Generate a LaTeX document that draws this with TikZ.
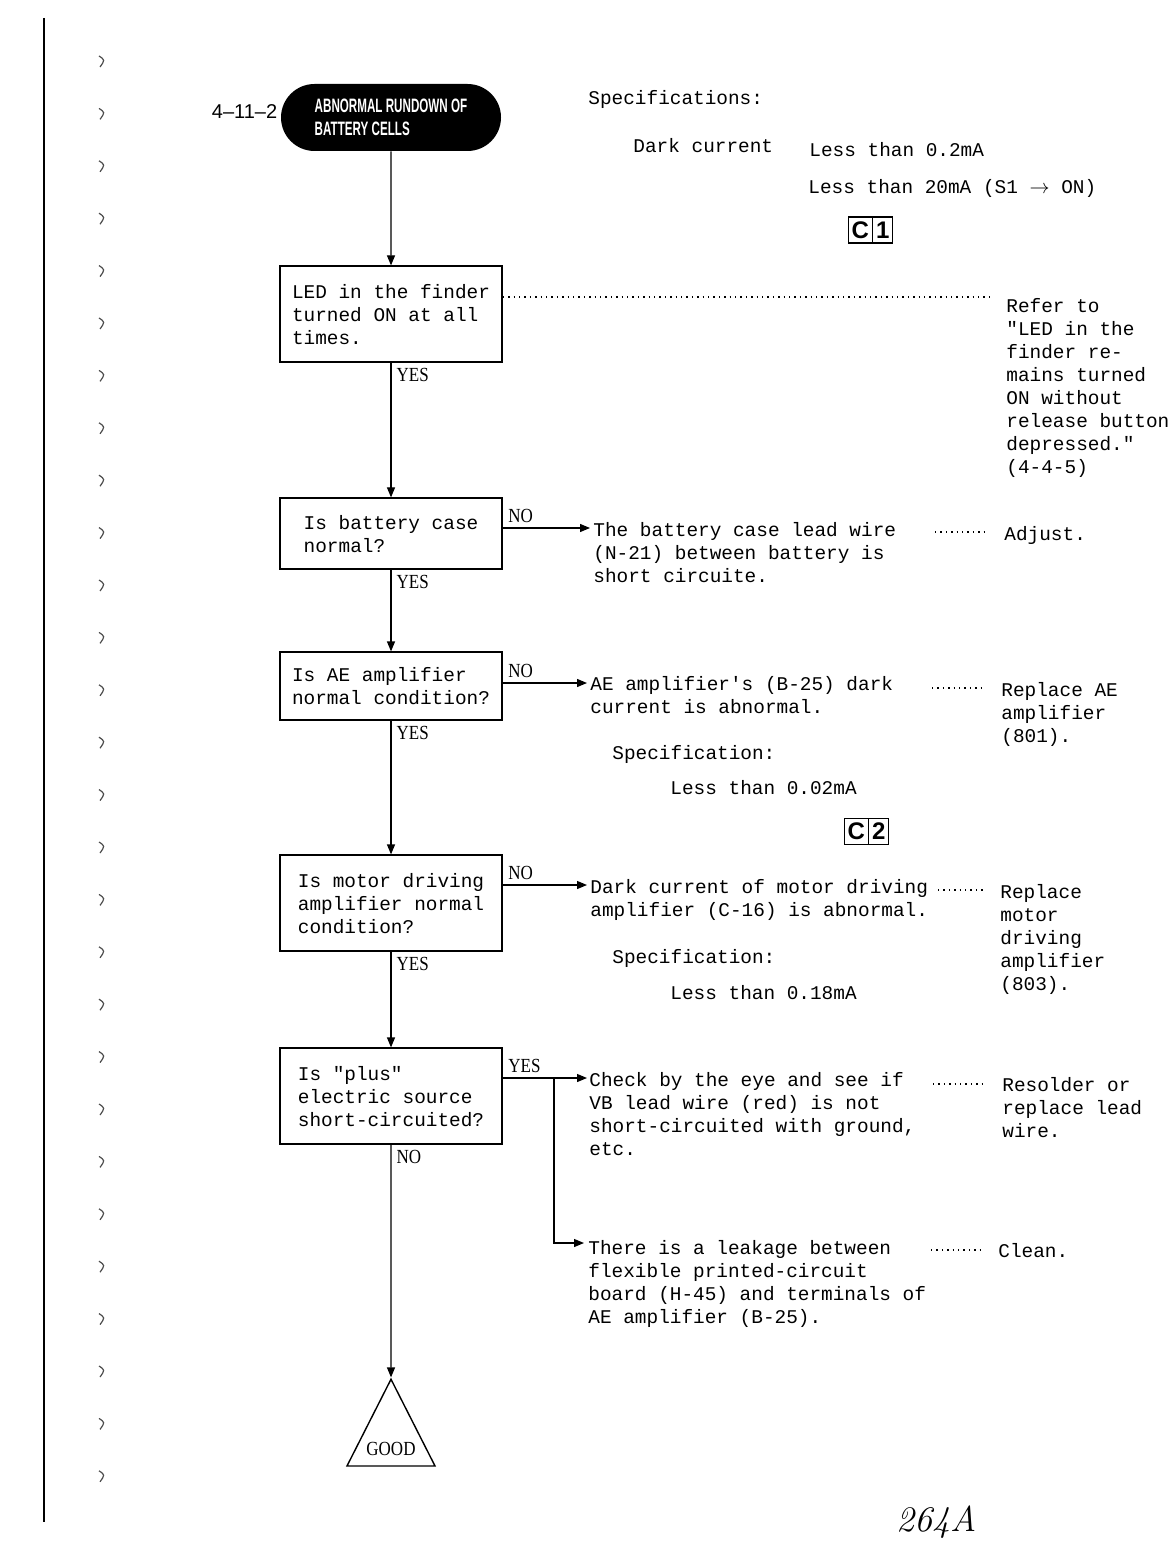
\documentclass[tikz,border=0pt]{standalone}
\usepackage{fontspec}
\setmonofont{Liberation Mono}
\newfontfamily\headfont[FakeStretch=0.6]{Liberation Sans}
\newfontfamily\lblfont[FakeStretch=0.85]{Liberation Serif}
\newfontfamily\numfont{Liberation Sans}
\usepackage{tikz}
\usetikzlibrary{arrows.meta, positioning, shapes.geometric, shapes.misc, shapes.multipart}

\newcommand{\typew}{\ttfamily\fontsize{9.7}{11.5}\selectfont}

\begin{document}
\begin{tikzpicture}[
    x=0.5pt, y=-0.5pt,
    heading/.style={rounded rectangle, fill=black, text=white, align=left, minimum width=110pt, minimum height=33.5pt, inner sep=0pt, font=\headfont\bfseries\fontsize{9.7}{11.5}\selectfont},
    box/.style={draw, line width=0.8pt, align=left, minimum width=111pt, inner sep=0pt, font=\typew},
    note/.style={anchor=north west, align=left, inner sep=0pt, font=\typew},
    lbl/.style={inner sep=2.5pt, font=\lblfont\fontsize{10}{12}\selectfont},
    arr/.style={-{Stealth[length=5pt, width=4pt, inset=0pt]}, line width=0.6pt},
    leader/.style={line width=0.7pt, dash pattern=on 0.7pt off 2pt, shorten >=10pt},
    cbox/.style={draw, line width=0.6pt, rectangle split, rectangle split horizontal, rectangle split parts=2, inner xsep=1.5pt, inner ysep=0pt, minimum height=13pt, font=\numfont\bfseries\fontsize{12}{14}\selectfont},
    goal/.style={draw, line width=0.7pt, isosceles triangle, isosceles triangle stretches, shape border rotate=90, minimum width=44pt, minimum height=41.5pt, inner xsep=0pt, inner ysep=3.5pt, font=\lblfont\fontsize{10}{12}\selectfont},
    node distance=1.6cm
]
\useasboundingbox (0,0) rectangle (1168,1566);

% binding edge of the sheet
\draw[line width=1pt] (44,18) -- (44,1522);
\foreach \k in {0,...,27}
    \draw[black!70, line width=0.6pt] (99,{56+52.4*\k}) .. controls (105,{60+52.4*\k}) .. (100,{67+52.4*\k});

% main column
\node[heading] (head) at (391,117.5) {ABNORMAL RUNDOWN OF\\BATTERY CELLS};
\node[font=\numfont\fontsize{10}{12}\selectfont, left=1.5pt of head, yshift=3pt, inner sep=0pt] (sect) {4–11–2};
\node[box, minimum height=48pt, below=57pt of head] (led) {LED in the finder\\turned ON at all\\times.};
\node[box, minimum height=35.5pt, below=67.2pt of led] (batt) {Is battery case\\normal?};
\node[box, minimum height=34pt, below=40.7pt of batt] (amp) {Is AE amplifier\\normal condition?};
\node[box, minimum height=48pt, below=66.7pt of amp] (motor) {Is motor driving\\amplifier normal\\condition?};
\node[box, minimum height=48pt, below=47.7pt of motor] (plus) {Is "plus"\\electric source\\short-circuited?};
\node[goal, below=116.2pt of plus] (good) {GOOD};

\draw[arr] (head) -- (led);
\draw[arr] (led) -- node[lbl, pos=0, anchor=north west] {YES} (batt);
\draw[arr] (batt) -- node[lbl, pos=0, anchor=north west] {YES} (amp);
\draw[arr] (amp) -- node[lbl, pos=0, anchor=north west] {YES} (motor);
\draw[arr] (motor) -- node[lbl, pos=0, anchor=north west] {YES} (plus);
\draw[arr] (plus) -- node[lbl, pos=0, anchor=north west] {NO} (good);

% specifications
\node[note] (spec) at (588,90) {Specifications:};
\node[note] (dark) at (633,138) {Dark current};
\node[note] (lim1) at (809,142) {Less than 0.2mA};
\node[note] (lim2) at (808,179) {Less than 20mA (S1 $\rightarrow$ ON)};
\node[cbox] (c1) at (870.5,230) {C\nodepart{two}1};

% LED
\coordinate (refin) at (1006,297);
\node[note] (refer) at (1006,298) {Refer to\\"LED in the\\finder re-\\mains turned\\ON without\\release button\\depressed."\\(4-4-5)};
\draw[leader, shorten >=6pt] (led.east |- refin) -- (refin);

% battery case
\coordinate (battin) at (590,528);
\node[note] (battwire) at (593,522) {The battery case lead wire\\(N-21) between battery is\\short circuite.};
\draw[arr] (batt.east |- battin) -- node[lbl, pos=0, anchor=south west] {NO} (battin);
\node[note] (adjust) at (1004,526) {Adjust.};
\coordinate (battdots) at (935,532);
\draw[leader] (battdots) -- (battdots -| adjust.west);

% AE amplifier
\coordinate (ampin) at (587,683);
\node[note] (ampdark) at (590,676) {AE amplifier's (B-25) dark\\current is abnormal.};
\draw[arr] (amp.east |- ampin) -- node[lbl, pos=0, anchor=south west] {NO} (ampin);
\node[note] (ampspec) at (612,745) {Specification:};
\node[note] (amplim) at (670,780) {Less than 0.02mA};
\node[cbox] (c2) at (866.5,831.5) {C\nodepart{two}2};
\node[note] (ampfix) at (1001,682) {Replace AE\\amplifier\\(801).};
\coordinate (ampdots) at (932,688);
\draw[leader] (ampdots) -- (ampdots -| ampfix.west);

% motor driving amplifier
\coordinate (motin) at (587,885);
\node[note] (motdark) at (590,879) {Dark current of motor driving\\amplifier (C-16) is abnormal.};
\draw[arr] (motor.east |- motin) -- node[lbl, pos=0, anchor=south west] {NO} (motin);
\node[note] (motspec) at (612,949) {Specification:};
\node[note] (motlim) at (670,985) {Less than 0.18mA};
\node[note] (motfix) at (1000,884) {Replace\\motor\\driving\\amplifier\\(803).};
\coordinate (motdots) at (938,890);
\draw[leader, shorten >=7pt] (motdots) -- (motdots -| motfix.west);

% plus source
\coordinate (checkin) at (587,1078);
\coordinate (split) at (554,1078);
\coordinate (leakin) at (584,1243);
\node[note] (check) at (589,1072) {Check by the eye and see if\\VB lead wire (red) is not\\short-circuited with ground,\\etc.};
\node[note] (leak) at (588,1240) {There is a leakage between\\flexible printed-circuit\\board (H-45) and terminals of\\AE amplifier (B-25).};
\draw[arr] (plus.east |- checkin) -- node[lbl, pos=0, anchor=south west] {YES} (checkin);
\draw[arr] (split) |- (leakin);
\node[note] (resolder) at (1002,1077) {Resolder or\\replace lead\\wire.};
\node[note] (clean) at (998,1243) {Clean.};
\coordinate (checkdots) at (933,1084);
\coordinate (leakdots) at (931,1250);
\draw[leader] (checkdots) -- (checkdots -| resolder.west);
\draw[leader, shorten >=9pt] (leakdots) -- (leakdots -| clean.west);

% page number
\node[font=\itshape\fontsize{18}{20}\selectfont] (pageno) at (937,1522) {264A};
\end{tikzpicture}
\end{document}
